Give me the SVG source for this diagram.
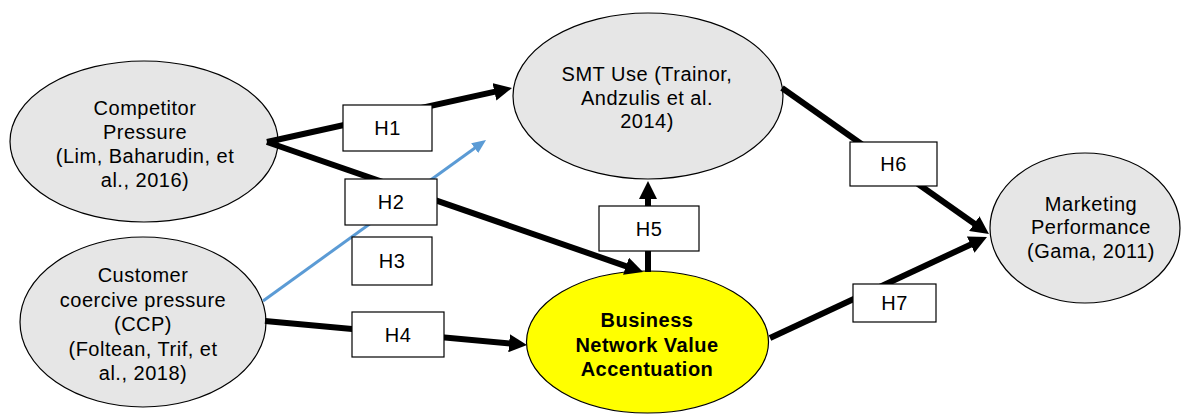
<svg xmlns="http://www.w3.org/2000/svg" width="1182" height="414" viewBox="0 0 1182 414">
<style>
.node{fill:#e6e6e6;stroke:#000;stroke-width:1.2}
.hl{fill:#ffff00;stroke:#000;stroke-width:1.2}
.t{font-family:"Liberation Sans",Arial,sans-serif;font-size:20px;letter-spacing:0.5px;text-anchor:middle;fill:#000}
.b{font-weight:bold}
.c{stroke:#000;stroke-width:6;fill:none;marker-end:url(#ah)}
.cb{stroke:#5b9bd5;stroke-width:3;fill:none;marker-end:url(#ahb)}
.box{fill:#fff;stroke:#000;stroke-width:1.2}
</style>
<defs>
<marker id="ah" markerUnits="userSpaceOnUse" markerWidth="18" markerHeight="18" refX="2" refY="9" orient="auto">
<path d="M0,0 L18,9 L0,18 z" fill="#000"/>
</marker>
<marker id="ahb" markerUnits="userSpaceOnUse" markerWidth="14" markerHeight="12" refX="2" refY="6" orient="auto">
<path d="M0,0 L14,6 L0,12 z" fill="#5b9bd5"/>
</marker>
</defs>
<rect width="1182" height="414" fill="#fff"/>
<g id="competitor">
<ellipse class="node" cx="144" cy="141.5" rx="134" ry="80.5"/>
<text class="t" x="145" y="115">Competitor</text>
<text class="t" x="145" y="139">Pressure</text>
<text class="t" x="145" y="163">(Lim, Baharudin, et</text>
<text class="t" x="145" y="187">al., 2016)</text>
</g>
<g id="customer">
<ellipse class="node" cx="143" cy="322" rx="123" ry="85"/>
<text class="t" x="143" y="282">Customer</text>
<text class="t" x="143" y="307">coercive pressure</text>
<text class="t" x="143" y="331">(CCP)</text>
<text class="t" x="143" y="356">(Foltean, Trif, et</text>
<text class="t" x="143" y="380">al., 2018)</text>
</g>
<g id="smt">
<ellipse class="node" cx="648" cy="96" rx="135" ry="83"/>
<text class="t" x="647" y="81">SMT Use (Trainor,</text>
<text class="t" x="647" y="105">Andzulis et al.</text>
<text class="t" x="647" y="128">2014)</text>
</g>
<g id="bnva">
<ellipse class="hl" cx="647.5" cy="342" rx="121" ry="71"/>
<text class="t b" x="647" y="327">Business</text>
<text class="t b" x="647" y="352">Network Value</text>
<text class="t b" x="647" y="376">Accentuation</text>
</g>
<g id="marketing">
<ellipse class="node" cx="1085" cy="228" rx="95" ry="75"/>
<text class="t" x="1091" y="211">Marketing</text>
<text class="t" x="1091" y="234">Performance</text>
<text class="t" x="1091" y="258">(Gama, 2011)</text>
</g>
<g id="connectors">
<line class="c" x1="267" y1="142" x2="496.4" y2="91.4"/>
<line class="c" x1="267" y1="142" x2="627.9" y2="266.8"/>
<line class="cb" x1="263" y1="301" x2="476.3" y2="147"/>
<line class="c" x1="265" y1="321" x2="511.1" y2="343.5"/>
<line class="c" x1="648" y1="272" x2="648" y2="197"/>
<line class="c" x1="782" y1="88" x2="975.9" y2="224.8"/>
<line class="c" x1="770" y1="338" x2="972.5" y2="243.7"/>
</g>
<g id="labels">
<g id="h1"><rect class="box" x="343" y="105" width="89" height="46"/><text class="t" x="387.5" y="135">H1</text></g>
<g id="h2"><rect class="box" x="345" y="179" width="92" height="46"/><text class="t" x="391" y="209">H2</text></g>
<g id="h3"><rect class="box" x="352" y="237" width="80" height="48"/><text class="t" x="392" y="268">H3</text></g>
<g id="h4"><rect class="box" x="352" y="312" width="92" height="45"/><text class="t" x="398" y="342">H4</text></g>
<g id="h5"><rect class="box" x="599" y="206" width="100" height="45"/><text class="t" x="649" y="236">H5</text></g>
<g id="h6"><rect class="box" x="850" y="142" width="87" height="44"/><text class="t" x="893.5" y="171">H6</text></g>
<g id="h7"><rect class="box" x="853" y="284" width="83" height="38"/><text class="t" x="894.5" y="310">H7</text></g>
</g>
</svg>
